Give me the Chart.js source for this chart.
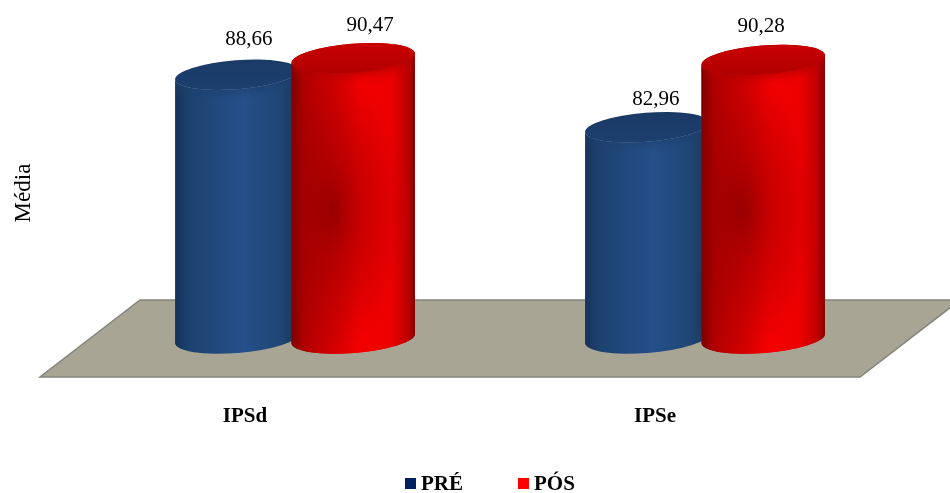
<!DOCTYPE html>
<html lang="pt">
<head>
<meta charset="utf-8">
<title>IPSd / IPSe</title>
<style>
  html, body { margin: 0; padding: 0; background: #fff; }
  canvas { display: block; }
</style>
<script src="https://cdn.jsdelivr.net/npm/chart.js@4"></script>
</head>
<body>
<canvas id="chart" width="950" height="493"></canvas>
<script>
// ───── Data ─────────────────────────────────────────────────────────────────
const categories = ['IPSd', 'IPSe'];
const preValues = [88.66, 82.96];
const posValues = [90.47, 90.28];

// Hand-placed value labels: pixel nudge from each cylinder's top centre.
const preLabelNudge = [[12, -35], [9, -28]];
const posLabelNudge = [[17, -33], [-2, -33]];

const SERIF = '"Liberation Serif", "Times New Roman", serif';

// Floor depth; cylinders stand halfway back on it.
const DEPTH_X = 100;
const DEPTH_Y = 77;
const TILT = -4.5 * Math.PI / 180;
const CAP_RY = 14.5;

const shades = {
  '#002060': {
    body: [[0, '#17325a'], [0.12, '#1d4270'], [0.55, '#25508a'], [0.85, '#1f4674'], [1, '#1a3558']],
    cap: ['#1a3a66', '#1c3f6e'],
  },
  '#ff0000': {
    body: [[0, '#7c0000'], [0.1, '#b00000'], [0.55, '#f40000'], [0.8, '#ee0000'], [0.94, '#c00000'], [1, '#860000']],
    cap: ['#c80000', '#b20000'],
    spot: 'rgba(130,0,0,0.72)',
  },
};

// ───── Cylinder bars ────────────────────────────────────────────────────────
class CylinderElement extends Chart.BarElement {
  draw(ctx) {
    const { x, y, base, width } = this;
    const cx = x + DEPTH_X / 2;
    const topY = y - DEPTH_Y / 2;
    const baseY = base - DEPTH_Y / 2;
    const rx = width / 2 / Math.cos(TILT);
    const left = cx - width / 2;
    const shade = shades[this.options.backgroundColor];

    ctx.save();

    // Body: side walls plus the lower half of the base ellipse.
    ctx.beginPath();
    ctx.ellipse(cx, topY, rx, CAP_RY, TILT, Math.PI, 0, true);
    ctx.ellipse(cx, baseY, rx, CAP_RY, TILT, 0, Math.PI);
    ctx.closePath();
    const grad = ctx.createLinearGradient(left, 0, left + width, 0);
    shade.body.forEach(([stop, color]) => grad.addColorStop(stop, color));
    ctx.fillStyle = grad;
    ctx.fill();

    ctx.save();
    ctx.clip();

    // Dark patch on the red wall.
    if (shade.spot) {
      ctx.save();
      ctx.translate(left + width * 0.33, 210);
      ctx.scale(1, 2);
      const spot = ctx.createRadialGradient(0, 0, 0, 0, 0, 72);
      spot.addColorStop(0, shade.spot);
      spot.addColorStop(0.35, 'rgba(150,0,0,0.5)');
      spot.addColorStop(1, 'rgba(150,0,0,0)');
      ctx.fillStyle = spot;
      ctx.fillRect(-width, -width, width * 2, width * 2);
      ctx.restore();
    }

    // Soft shade the cap throws on the wall just under it.
    ctx.shadowColor = shade.cap[1];
    ctx.shadowBlur = 12;
    ctx.shadowOffsetY = 2;
    ctx.beginPath();
    ctx.ellipse(cx, topY, rx, CAP_RY, TILT, 0, Math.PI * 2);
    ctx.fillStyle = shade.cap[1];
    ctx.fill();
    ctx.restore();

    // Top cap.
    ctx.beginPath();
    ctx.ellipse(cx, topY, rx, CAP_RY, TILT, 0, Math.PI * 2);
    const capGrad = ctx.createLinearGradient(0, topY - 15, 0, topY + 15);
    capGrad.addColorStop(0, shade.cap[0]);
    capGrad.addColorStop(1, shade.cap[1]);
    ctx.fillStyle = capGrad;
    ctx.fill();

    ctx.restore();
  }
}
CylinderElement.id = 'cylinder';
CylinderElement.defaults = Chart.BarElement.defaults;

class CylinderController extends Chart.BarController {}
CylinderController.id = 'cylinder';
CylinderController.defaults = { ...Chart.BarController.defaults, dataElementType: 'cylinder' };
CylinderController.overrides = Chart.BarController.overrides;

Chart.register(CylinderElement, CylinderController);

// ───── Plugins: floor, value labels, legend ─────────────────────────────────
const floorPlugin = {
  id: 'floor',
  beforeDatasetsDraw(chart) {
    const { ctx, chartArea: { left, right, bottom } } = chart;
    ctx.save();
    ctx.beginPath();
    ctx.moveTo(left, bottom);
    ctx.lineTo(right, bottom);
    ctx.lineTo(right + DEPTH_X, bottom - DEPTH_Y);
    ctx.lineTo(left + DEPTH_X, bottom - DEPTH_Y);
    ctx.closePath();
    ctx.fillStyle = '#a8a594';
    ctx.fill();
    ctx.strokeStyle = '#84847c';
    ctx.lineWidth = 1.5;
    ctx.stroke();
    ctx.restore();
  },
};

const valueLabelPlugin = {
  id: 'valueLabels',
  afterDatasetsDraw(chart) {
    const { ctx } = chart;
    const nudges = [preLabelNudge, posLabelNudge];

    // Chart.js paints dataset 0 last; the red cylinders belong in front.
    chart.getDatasetMeta(1).data.forEach((bar) => bar.draw(ctx));

    ctx.save();
    ctx.font = '21px ' + SERIF;
    ctx.fillStyle = '#000';
    ctx.textAlign = 'center';
    ctx.textBaseline = 'middle';
    chart.data.datasets.forEach((ds, d) => {
      chart.getDatasetMeta(d).data.forEach((bar, i) => {
        const [dx, dy] = nudges[d][i];
        const text = ds.data[i].toFixed(2).replace('.', ',');
        ctx.fillText(text, bar.x + DEPTH_X / 2 + dx, bar.y - DEPTH_Y / 2 + dy);
      });
    });
    ctx.restore();
  },
};

// Chart.js's own legend fixes the box-to-text gap at half the font size,
// so the two entries are laid out here.
const legendPlugin = {
  id: 'bottomLegend',
  afterDraw(chart) {
    const { ctx } = chart;
    const boxX = [405, 518];
    ctx.save();
    ctx.font = 'bold 21px ' + SERIF;
    ctx.textAlign = 'left';
    ctx.textBaseline = 'middle';
    chart.data.datasets.forEach((ds, d) => {
      ctx.fillStyle = ds.backgroundColor;
      ctx.fillRect(boxX[d], 478, 11, 11);
      ctx.fillStyle = '#000';
      ctx.fillText(ds.label, boxX[d] + 16, 485);
    });
    ctx.restore();
  },
};

// ───── Chart ────────────────────────────────────────────────────────────────
new Chart(document.getElementById('chart'), {
  type: 'cylinder',
  data: {
    labels: categories,
    datasets: [
      { label: 'PRÉ', data: preValues, backgroundColor: '#002060', base: 60 },
      { label: 'PÓS', data: posValues, backgroundColor: '#ff0000', base: 60 },
    ],
  },
  plugins: [floorPlugin, valueLabelPlugin, legendPlugin],
  options: {
    responsive: false,
    animation: false,
    layout: { padding: { top: 9, right: 90, bottom: 0, left: 0 } },
    categoryPercentage: 0.568,
    barPercentage: 1.06,
    plugins: {
      legend: { display: false },
      tooltip: { enabled: false },
    },
    scales: {
      x: {
        grid: { display: false },
        border: { display: false },
        ticks: {
          padding: 19,
          maxRotation: 0,
          color: '#000',
          font: { family: SERIF, size: 21, weight: 'bold' },
        },
        afterFit: (scale) => { scale.height = 116; },
      },
      y: {
        min: 60,
        max: 100,
        grid: { display: false },
        border: { display: false },
        ticks: { display: false },
        title: {
          display: true,
          text: 'Média',
          color: '#000',
          font: { family: SERIF, size: 23 },
          padding: { top: 10, bottom: 0 },
        },
        afterFit: (scale) => { scale.width = 40; },
      },
    },
  },
});
</script>
</body>
</html>
